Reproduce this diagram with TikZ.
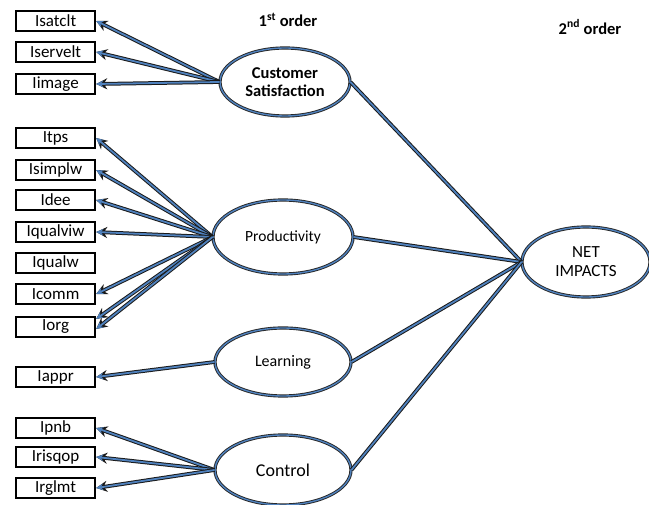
\documentclass[tikz,border=0pt]{standalone}
\usepackage{fontspec}
\setmainfont{Carlito}
\usetikzlibrary{arrows.meta,shapes.geometric}
\definecolor{lb}{RGB}{79,129,189}
\tikzset{
  ind/.style={draw=black, line width=2.2pt, fill=white, minimum width=79pt, minimum height=20pt, inner sep=0pt, anchor=west, font=\fontsize{17}{17}\selectfont},
  lat/.style={ellipse, draw=black!85, double=lb, double distance=1.4pt, line width=0.9pt, fill=white, inner sep=0pt, align=center},
  outerln/.style={line width=3.8pt, draw=black!90},
  innerln/.style={line width=1.8pt, draw=lb},
  hdr/.style={font=\bfseries\fontsize{16.5}{16.5}\selectfont},
}
\newcommand\myarr[2]{%
  \draw[outerln,-{Stealth[length=11pt,width=11pt]}] (#1) -- (#2);
  \draw[innerln,-{Stealth[length=7pt,width=6.5pt,color=lb]}] (#1) -- (#2);}
\newcommand\mylink[2]{%
  \draw[outerln] (#1) -- (#2);
  \draw[innerln] (#1) -- (#2);}
\begin{document}
\begin{tikzpicture}[x=1pt,y=-1pt]
\useasboundingbox (0,0) rectangle (649,505);
% indicators
\node[ind] (isatclt) at (15,21) {Isatclt};
\node[ind] (iservelt) at (15,52) {Iservelt};
\node[ind] (iimage) at (15,84) {Iimage};
\node[ind] (itps) at (15,138) {Itps};
\node[ind] (isimplw) at (15,170) {Isimplw};
\node[ind] (idee) at (15,200) {Idee};
\node[ind] (iqualviw) at (15,232) {Iqualviw};
\node[ind] (iqualw) at (15,263) {Iqualw};
\node[ind] (icomm) at (15,294) {Icomm};
\node[ind] (iorg) at (15,327) {Iorg};
\node[ind] (iappr) at (15,377) {Iappr};
\node[ind] (ipnb) at (15,428) {Ipnb};
\node[ind] (irisqop) at (15,457) {Irisqop};
\node[ind] (irglmt) at (15,488) {Irglmt};
% first order
\node[lat, minimum width=130pt, minimum height=68pt, font=\bfseries\fontsize{16.5}{18}\selectfont] (cs) at (285,82) {Customer\\Satisfaction};
\node[lat, minimum width=140pt, minimum height=74pt, font=\fontsize{15.5}{16}\selectfont] (prod) at (283,237) {Productivity};
\node[lat, minimum width=136pt, minimum height=68pt, font=\fontsize{16}{16}\selectfont] (learn) at (283,362) {Learning};
\node[lat, minimum width=136pt, minimum height=70pt, font=\fontsize{18}{18}\selectfont] (ctrl) at (283,470) {Control};
% second order
\node[lat, minimum width=128pt, minimum height=70pt, font=\fontsize{17}{19}\selectfont] (net) at (586,262) {NET\\IMPACTS};
% headers
\node[hdr] (h1) at (288,20) {1\textsuperscript{st} order};
\node[hdr] (h2) at (590,27) {2\textsuperscript{nd} order};
% second-order links
\mylink{cs.east}{net.west}
\mylink{prod.east}{net.west}
\mylink{learn.east}{net.west}
\mylink{ctrl.east}{net.west}
% measurement arrows
\myarr{cs.west}{isatclt.east}
\myarr{cs.west}{iservelt.east}
\myarr{cs.west}{iimage.east}
\myarr{prod.west}{itps.east}
\myarr{prod.west}{isimplw.east}
\myarr{prod.west}{idee.east}
\myarr{prod.west}{iqualviw.east}
\myarr{prod.west}{icomm.east}
\myarr{prod.west}{[yshift=-3pt]iorg.north east}
\myarr{prod.west}{[yshift=-2pt]iorg.east}
\myarr{learn.west}{iappr.east}
\myarr{ctrl.west}{ipnb.east}
\myarr{ctrl.west}{irisqop.east}
\myarr{ctrl.west}{irglmt.east}
\end{tikzpicture}
\end{document}
